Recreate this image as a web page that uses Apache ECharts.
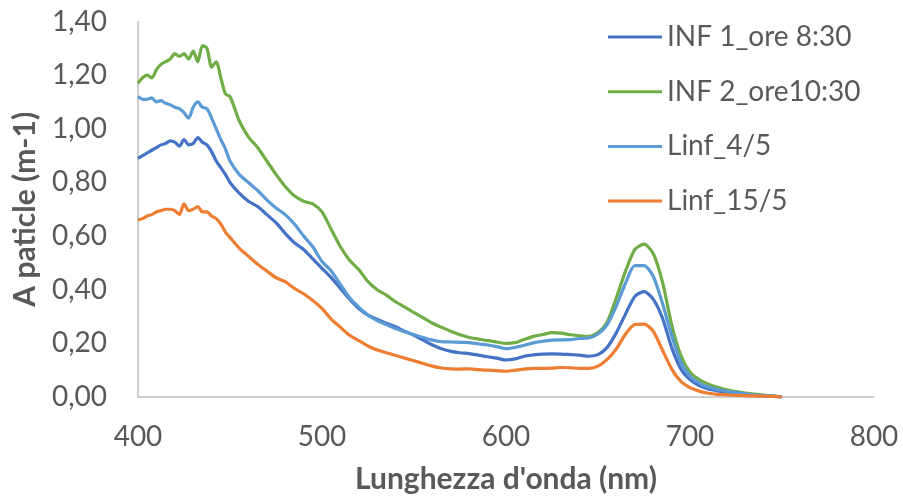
<!DOCTYPE html>
<html>
<head>
<meta charset="utf-8">
<script src="https://cdn.jsdelivr.net/npm/echarts@6/dist/echarts.min.js"></script>
<style>
  html, body { margin: 0; padding: 0; background: #fff; }
  #chart { width: 903px; height: 499px; }
</style>
</head>
<body>
<div id="chart"></div>
<script>
// wavelengths (nm): 2.5 nm steps up to 450, then 5 nm
const wavelengths = [400, 402.5, 405, 407.5, 410, 412.5, 415, 417.5, 420, 422.5, 425, 427.5, 430, 432.5, 435, 437.5, 440, 442.5, 445, 447.5, 450,
  455, 460, 465, 470, 475, 480, 485, 490, 495, 500, 505, 510, 515, 520, 525, 530, 535, 540, 545, 550,
  555, 560, 565, 570, 575, 580, 585, 590, 595, 600, 605, 610, 615, 620, 625, 630, 635, 640, 645, 650,
  655, 660, 665, 670, 675, 680, 685, 690, 695, 700, 705, 710, 715, 720, 725, 730, 735, 740, 745, 750]

const inf1 = [0.89, 0.90, 0.91, 0.92, 0.93, 0.94, 0.945, 0.955, 0.95, 0.935, 0.96, 0.94, 0.945, 0.967, 0.95, 0.94, 0.915, 0.88, 0.855, 0.83, 0.80,
  0.76, 0.73, 0.71, 0.68, 0.65, 0.61, 0.575, 0.55, 0.515, 0.48, 0.445, 0.405, 0.365, 0.33, 0.305, 0.29, 0.275, 0.262, 0.245, 0.23,
  0.212, 0.194, 0.18, 0.17, 0.165, 0.162, 0.156, 0.15, 0.145, 0.138, 0.142, 0.152, 0.157, 0.16, 0.161, 0.16, 0.158, 0.156, 0.152, 0.158,
  0.185, 0.24, 0.31, 0.375, 0.393, 0.365, 0.295, 0.185, 0.105, 0.065, 0.043, 0.03, 0.023, 0.018, 0.013, 0.01, 0.007, 0.004, 0.002, 0.0]

const inf2 = [1.17, 1.19, 1.20, 1.19, 1.22, 1.24, 1.25, 1.26, 1.28, 1.27, 1.28, 1.26, 1.29, 1.25, 1.31, 1.30, 1.23, 1.25, 1.19, 1.13, 1.12,
  1.03, 0.97, 0.93, 0.88, 0.83, 0.785, 0.75, 0.73, 0.72, 0.69, 0.625, 0.56, 0.51, 0.475, 0.43, 0.40, 0.38, 0.355, 0.335, 0.315,
  0.295, 0.275, 0.26, 0.245, 0.232, 0.222, 0.216, 0.21, 0.205, 0.20, 0.203, 0.215, 0.226, 0.233, 0.24, 0.238, 0.232, 0.228, 0.226, 0.24,
  0.28, 0.37, 0.47, 0.55, 0.57, 0.535, 0.43, 0.27, 0.155, 0.092, 0.065, 0.048, 0.036, 0.027, 0.02, 0.015, 0.011, 0.007, 0.004, 0.0]

const linf45 = [1.12, 1.11, 1.11, 1.115, 1.10, 1.105, 1.095, 1.09, 1.08, 1.075, 1.06, 1.04, 1.08, 1.10, 1.08, 1.075, 1.04, 1.00, 0.96, 0.925, 0.88,
  0.83, 0.80, 0.77, 0.735, 0.705, 0.68, 0.645, 0.60, 0.56, 0.505, 0.47, 0.42, 0.37, 0.335, 0.305, 0.285, 0.27, 0.255, 0.243, 0.232,
  0.222, 0.212, 0.206, 0.205, 0.204, 0.203, 0.198, 0.194, 0.188, 0.18, 0.185, 0.193, 0.202, 0.208, 0.212, 0.213, 0.214, 0.218, 0.22, 0.235,
  0.27, 0.34, 0.425, 0.49, 0.49, 0.45, 0.35, 0.23, 0.13, 0.078, 0.052, 0.037, 0.028, 0.021, 0.016, 0.012, 0.008, 0.005, 0.003, 0.0]

const linf155 = [0.66, 0.665, 0.675, 0.68, 0.69, 0.695, 0.70, 0.70, 0.695, 0.68, 0.72, 0.695, 0.70, 0.71, 0.69, 0.69, 0.675, 0.665, 0.645, 0.615, 0.595,
  0.555, 0.525, 0.495, 0.47, 0.445, 0.43, 0.405, 0.385, 0.36, 0.33, 0.29, 0.26, 0.23, 0.21, 0.19, 0.175, 0.165, 0.155, 0.145, 0.135,
  0.125, 0.115, 0.108, 0.105, 0.104, 0.105, 0.102, 0.10, 0.098, 0.096, 0.10, 0.104, 0.107, 0.107, 0.108, 0.11, 0.109, 0.107, 0.107, 0.115,
  0.14, 0.18, 0.235, 0.27, 0.272, 0.245, 0.175, 0.105, 0.058, 0.035, 0.022, 0.014, 0.01, 0.008, 0.006, 0.005, 0.004, 0.003, 0.002, 0.0]

const seriesNames = ['INF 1_ore 8:30', 'INF 2_ore10:30', 'Linf_4/5', 'Linf_15/5']
const seriesColors = ['#4472C4', '#70AD47', '#5B9BD5', '#ED7D31']
const seriesValues = [inf1, inf2, linf45, linf155]

const textColor = '#595959'
const font = 'Lato'

let chart = echarts.init(document.getElementById('chart'))
chart.setOption({
  animation: false,
  textStyle: { fontFamily: font },
  grid: { left: 138, right: 29, top: 21.5, bottom: 100, containLabel: false },
  legend: {
    orient: 'vertical',
    left: 608,
    top: 20,
    padding: 0,
    icon: 'rect',
    itemWidth: 54,
    itemHeight: 3,
    itemGap: 20.7,
    textStyle: { fontSize: 28, color: textColor, fontFamily: font, lineHeight: 34 },
    data: seriesNames
  },
  xAxis: {
    type: 'value',
    min: 400,
    max: 800,
    interval: 100,
    name: "Lunghezza d'onda (nm)",
    nameLocation: 'middle',
    nameGap: 67,
    nameTextStyle: { fontSize: 30, fontWeight: 'bold', color: textColor, fontFamily: font },
    axisLine: { lineStyle: { color: '#BFBFBF', width: 1.5 } },
    axisTick: { show: false },
    splitLine: { show: false },
    axisLabel: { fontSize: 28, color: textColor, margin: 26, fontFamily: font }
  },
  yAxis: {
    type: 'value',
    min: 0,
    max: 1.4,
    interval: 0.2,
    name: 'A paticle (m-1)',
    nameLocation: 'middle',
    nameGap: 98,
    nameTextStyle: { fontSize: 30, fontWeight: 'bold', color: textColor, fontFamily: font },
    axisLine: { show: true, lineStyle: { color: '#BFBFBF', width: 1.5 } },
    axisTick: { show: false },
    splitLine: { show: false },
    axisLabel: {
      fontSize: 28, color: textColor, margin: 31, fontFamily: font,
      formatter: v => v.toFixed(2).replace('.', ',')
    }
  },
  series: seriesNames.map((name, i) => ({
    name: name,
    type: 'line',
    showSymbol: false,
    symbol: 'none',
    smooth: 0.25,
    color: seriesColors[i],
    lineStyle: { width: 3.2, color: seriesColors[i] },
    data: wavelengths.map((w, j) => [w, seriesValues[i][j]])
  }))
})
</script>
</body>
</html>
